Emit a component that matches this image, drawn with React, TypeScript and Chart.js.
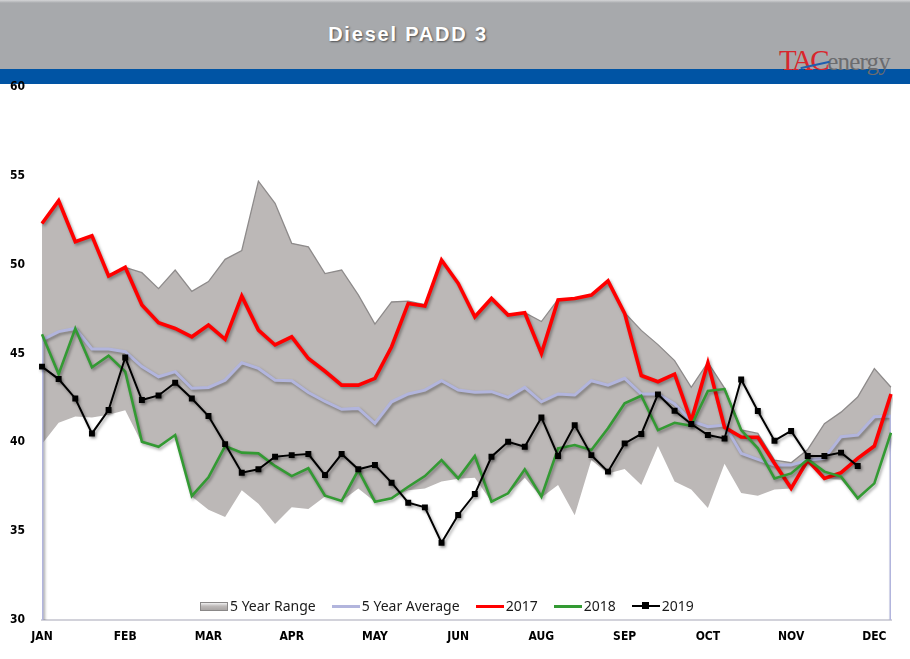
import React, { useEffect, useRef } from 'react';
import { Chart, registerables } from 'chart.js';

Chart.register(...registerables);

// ---- data ----
const monthLabels = ['JAN', 'FEB', 'MAR', 'APR', 'MAY', 'JUN', 'AUG', 'SEP', 'OCT', 'NOV', 'DEC'];
const weekCount = 52;
const labelEvery = 5;

const rangeUpper = [
  52.3, 53.6, 51.3, 51.6, 49.4, 49.85, 49.55, 48.65, 49.7, 48.5,
  49.05, 50.3, 50.8, 54.7, 53.45, 51.2, 51.0, 49.5, 49.7, 48.3,
  46.65, 47.9, 47.95, 47.75, 50.3, 48.95, 47.1, 48.1, 47.2, 47.3,
  46.8, 48.05, 48.1, 48.3, 49.1, 47.3, 46.3, 45.5, 44.6, 43.1,
  44.5, 43.05, 40.7, 40.5, 39.0, 38.85, 39.6, 41.05, 41.7, 42.55,
  44.15, 43.1,
];
const rangeLower = [
  39.9, 41.1, 41.45, 41.4, 41.55, 41.8, 39.95, 39.75, 40.4, 36.95,
  36.2, 35.8, 37.3, 36.55, 35.4, 36.35, 36.25, 36.95, 36.7, 37.4,
  36.65, 36.85, 37.3, 37.4, 37.8, 37.95, 38.0, 36.65, 37.1, 38.0,
  36.9, 37.6, 35.9, 39.0, 38.25, 38.5, 37.6, 39.8, 37.8, 37.35,
  36.3, 38.8, 37.15, 37.0, 37.35, 37.4, 38.8, 37.95, 37.9, 36.85,
  37.7, 40.5,
];
const fiveYearAvg = [
  45.76, 46.23, 46.41, 45.25, 45.25, 45.1, 44.26, 43.69, 43.98, 43.04,
  43.09, 43.5, 44.48, 44.16, 43.5, 43.47, 42.8, 42.3, 41.86, 41.91,
  41.07, 42.28, 42.72, 42.94, 43.47, 42.94, 42.82, 42.85, 42.53, 43.09,
  42.28, 42.72, 42.66, 43.47, 43.22, 43.6, 42.72, 42.72, 42.16, 41.2,
  40.88, 40.97, 39.38, 39.04, 38.72, 38.72, 39.0, 39.1, 40.32, 40.41,
  41.44, 41.48,
];
const series2017 = [
  52.32, 53.6, 51.29, 51.63, 49.36, 49.85, 47.73, 46.73, 46.41, 45.94,
  46.6, 45.8, 48.23, 46.32, 45.48, 45.94, 44.72, 44.0, 43.22, 43.22,
  43.6, 45.38, 47.82, 47.67, 50.26, 48.95, 47.07, 48.1, 47.16, 47.29,
  45.0, 48.01, 48.1, 48.29, 49.09, 47.26, 43.76, 43.41, 43.84, 41.2,
  44.48, 40.85, 40.3, 40.28, 38.82, 37.41, 39.0, 37.97, 38.29, 39.1,
  39.79, 42.72,
];
const series2018 = [
  46.08, 43.84, 46.41, 44.22, 44.88, 43.98, 40.03, 39.75, 40.41, 36.98,
  38.03, 39.79, 39.42, 39.38, 38.67, 38.1, 38.54, 37.0, 36.7, 38.44,
  36.66, 36.85, 37.5, 38.1, 39.0, 37.97, 39.23, 36.66, 37.13, 38.48,
  36.94, 39.66, 39.85, 39.57, 40.79, 42.2, 42.62, 40.69, 41.1, 40.93,
  42.89, 43.0, 40.69, 39.66, 37.97, 38.25, 39.04, 38.35, 38.07, 36.85,
  37.69, 40.54,
];
const series2019 = [
  44.26, 43.56, 42.47, 40.5, 41.82, 44.78, 42.38, 42.64, 43.35, 42.47,
  41.48, 39.9, 38.29, 38.48, 39.19, 39.28, 39.34, 38.16, 39.34, 38.48,
  38.72, 37.73, 36.6, 36.34, 34.35, 35.91, 37.09, 39.19, 40.03, 39.75,
  41.4, 39.23, 40.97, 39.28, 38.35, 39.94, 40.47, 42.7, 41.78, 41.03,
  40.41, 40.22, 43.54, 41.76, 40.09, 40.64, 39.23, 39.23, 39.42, 38.67,
  null, null,
];
const yMin = 30;
const yMax = 60;
const yStep = 5;

const weekLabels: string[] = Array.from({ length: weekCount }, (_, i) =>
  i % labelEvery === 0 ? monthLabels[i / labelEvery] ?? '' : ''
);

const narrowFont = "'Liberation Sans Narrow', 'Arial Narrow', 'DejaVu Sans Condensed', sans-serif";

const shadowPlugin = {
  id: 'lineShadow',
  beforeDatasetDraw(chart: any, args: any) {
    const ds = chart.data.datasets[args.index];
    if (!ds.shadow) return;
    const ctx = chart.ctx;
    ctx.save();
    ctx.shadowColor = 'rgba(0,0,0,0.35)';
    ctx.shadowBlur = 3;
    ctx.shadowOffsetX = 1.5;
    ctx.shadowOffsetY = 2;
  },
  afterDatasetDraw(chart: any, args: any) {
    const ds = chart.data.datasets[args.index];
    if (!ds.shadow) return;
    chart.ctx.restore();
  },
};

function DieselChart() {
  const ref = useRef<HTMLCanvasElement | null>(null);
  useEffect(() => {
    if (!ref.current) return;
    const avgPoints = [
      { x: 0, y: yMin },
      ...fiveYearAvg.map((v, i) => ({ x: i, y: v })),
      { x: weekCount - 1, y: yMin },
    ];
    const chart = new Chart(ref.current, {
      type: 'line',
      data: {
        labels: weekLabels,
        datasets: [
          {
            label: '2019',
            data: series2019,
            borderColor: '#000000',
            backgroundColor: '#000000',
            borderWidth: 2,
            pointStyle: 'rect',
            pointRadius: 4.2,
            pointBackgroundColor: '#000000',
            pointBorderWidth: 0,
            fill: false,
            tension: 0,
            shadow: true,
          } as any,
          {
            label: '2018',
            data: series2018,
            borderColor: '#339a33',
            borderWidth: 2.6,
            pointRadius: 0,
            fill: false,
            tension: 0,
            shadow: true,
          } as any,
          {
            label: '2017',
            data: series2017,
            borderColor: '#ff0000',
            borderWidth: 3.6,
            pointRadius: 0,
            fill: false,
            tension: 0,
            shadow: true,
          } as any,
          {
            label: '5 Year Average',
            data: avgPoints,
            xAxisID: 'x2',
            borderColor: '#b2b5dd',
            borderWidth: 3,
            pointRadius: 0,
            fill: false,
            tension: 0,
            shadow: true,
          } as any,
          {
            label: '5 Year Range',
            data: rangeUpper,
            borderColor: '#8e8b8b',
            borderWidth: 1.3,
            backgroundColor: '#bcb8b7',
            pointRadius: 0,
            fill: '+1',
            tension: 0,
          } as any,
          {
            label: 'range-low',
            data: rangeLower,
            borderColor: 'rgba(0,0,0,0)',
            borderWidth: 0,
            pointRadius: 0,
            fill: false,
            tension: 0,
          } as any,
        ],
      },
      options: {
        responsive: false,
        devicePixelRatio: 1,
        animation: false,
        layout: { padding: { top: 87, right: 19, bottom: 0, left: 0 } },
        plugins: {
          legend: { display: false },
          tooltip: { enabled: false },
        },
        scales: {
          x: {
            type: 'category',
            offset: false,
            grid: { display: false, drawTicks: false },
            border: { display: true, color: '#d2d2da', width: 2 },
            ticks: {
              autoSkip: false,
              maxRotation: 0,
              minRotation: 0,
              padding: 10,
              color: '#000',
              font: { family: narrowFont, size: 12, weight: 'bold' },
            },
            afterFit(s: any) {
              s.height = 39;
            },
          },
          x2: {
            type: 'linear',
            display: false,
            min: 0,
            max: weekCount - 1,
          },
          y: {
            min: yMin,
            max: yMax,
            ticks: {
              stepSize: yStep,
              padding: 17,
              color: '#000',
              font: { family: narrowFont, size: 12, weight: 'bold' },
            },
            grid: { display: false, drawTicks: false },
            border: { display: false },
            afterFit(s: any) {
              s.width = 42;
            },
          },
        },
      } as any,
      plugins: [shadowPlugin as any],
    });
    return () => chart.destroy();
  }, []);
  return (
    <canvas
      ref={ref}
      width={910}
      height={659}
      style={{ position: 'absolute', left: 0, top: 0, width: 910, height: 659 }}
    />
  );
}

const legendItems = [
  { label: '5 Year Range', kind: 'box', color: '#bcb8b7' },
  { label: '5 Year Average', kind: 'line', color: '#b2b5dd' },
  { label: '2017', kind: 'line', color: '#ff0000' },
  { label: '2018', kind: 'line', color: '#339a33' },
  { label: '2019', kind: 'marker', color: '#000000' },
];

function LegendIcon({ kind, color }: { kind: string; color: string }) {
  const base: React.CSSProperties = { position: 'relative', width: 28, height: 14, marginRight: 2, flex: '0 0 auto' };
  if (kind === 'box') {
    return (
      <span style={base}>
        <span
          style={{
            position: 'absolute', left: 0, top: 3, width: 26, height: 7,
            background: 'linear-gradient(#f0f0f0, #bdb9b8 45%, #a9a5a4)',
            border: '1px solid #8a8888',
          }}
        />
      </span>
    );
  }
  return (
    <span style={base}>
      <span style={{ position: 'absolute', left: 0, top: 6, width: 28, height: kind === 'marker' ? 2 : 3, background: color }} />
      {kind === 'marker' && (
        <span style={{ position: 'absolute', left: 10, top: 3.5, width: 7, height: 7, background: color }} />
      )}
    </span>
  );
}

export default function App() {
  return (
    <div style={{ position: 'absolute', left: 0, top: 0, width: 910, height: 659, background: '#fff', overflow: 'hidden' }}>
      <div style={{ position: 'absolute', left: 0, top: 0, width: 910, height: 69, background: 'linear-gradient(#d4d5d7 0px, #a7a9ac 3px, #a7a9ac 100%)' }} />
      <div style={{ position: 'absolute', left: 0, top: 69, width: 910, height: 15, background: '#0054a4' }} />
      <div
        style={{
          position: 'absolute', left: 0, top: 23, width: 816, textAlign: 'center',
          fontFamily: "'Liberation Sans', Arial, sans-serif", fontWeight: 'bold', fontSize: 20,
          letterSpacing: 1.8, color: '#ffffff', textShadow: '1px 1px 2px rgba(0,0,0,0.55)',
        }}
      >
        Diesel PADD 3
      </div>
      <div
        style={{
          position: 'absolute', left: 779, top: 46, whiteSpace: 'nowrap',
          fontFamily: "'Liberation Serif', 'Times New Roman', serif", lineHeight: '28px',
        }}
      >
        <span style={{ color: '#d9262c', fontSize: 29, letterSpacing: -2.5 }}>TAC</span>
        <span style={{ color: '#6b6c6f', fontSize: 25, letterSpacing: -0.8 }}>energy</span>
      </div>
      <div
        style={{
          position: 'absolute', left: 800, top: 64, width: 30, height: 2, background: '#1f5fb0',
          transform: 'rotate(-12deg)', borderRadius: 2,
        }}
      />
      <DieselChart />
      <div
        style={{
          position: 'absolute', left: 200, top: 596, display: 'flex', alignItems: 'center',
          fontFamily: "'Noto Sans', 'Open Sans', sans-serif", fontSize: 14, color: '#1a1a1a', whiteSpace: 'nowrap',
        }}
      >
        {legendItems.map((it) => (
          <span key={it.label} style={{ display: 'flex', alignItems: 'center', marginRight: 16 }}>
            <LegendIcon kind={it.kind} color={it.color} />
            <span>{it.label}</span>
          </span>
        ))}
      </div>
    </div>
  );
}
